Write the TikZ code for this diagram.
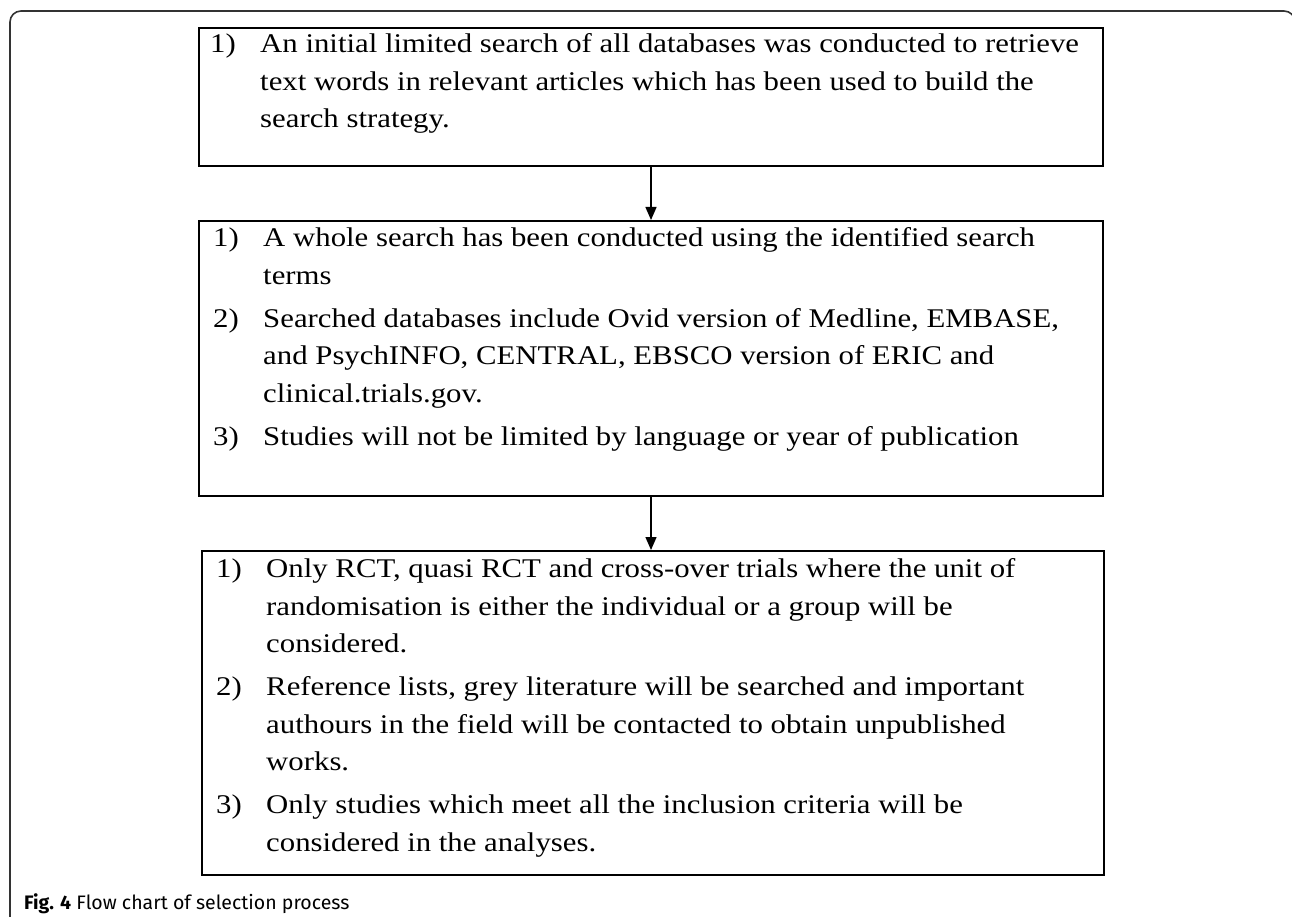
\documentclass[tikz,border=0pt]{standalone}
\usepackage{fontspec}
\usepackage{graphicx}
\setmainfont{Liberation Serif}
\newfontfamily\capfont{Fira Sans}
\usetikzlibrary{arrows.meta}

\tikzset{
  stepbox/.style={draw=black, line width=2pt, rectangle, inner sep=0pt},
  flowtext/.style={anchor=north west, inner sep=0pt, align=left,
    font=\fontsize{27}{37.5}\selectfont},
  flowarrow/.style={draw=black, line width=1.4pt,
    -{Triangle[length=13pt,width=11pt]}},
  frame/.style={draw=black!80, line width=1.6pt, rounded corners=11pt},
}
% item number column and the slightly widened list text
\newcommand{\nr}[1]{\makebox[43.9pt][l]{#1}}
\newcommand{\widelist}[1]{\scalebox{1.14}[1]{#1}}

\begin{document}
\begin{tikzpicture}[x=1pt,y=-1pt]
  \useasboundingbox (0,0) rectangle (1292,917);
  \begin{scope}
    \clip (0,0) rectangle (1292,917);
    \draw[frame] (10,11) rectangle (1295,950);
  \end{scope}

  % the three stages of the search
  \node[stepbox, minimum width=904pt, minimum height=138pt] (b1) at (651,97) {};
  \node[stepbox, minimum width=904pt, minimum height=275pt] (b2) at (651,358.5) {};
  \node[stepbox, minimum width=902pt, minimum height=324pt] (b3) at (653,713) {};

  \node[flowtext] (t1) at (210,26.5) {\widelist{%
    \begin{tabular}{@{}l@{}l@{}}
    \nr{1)} & An initial limited search of all databases was conducted to retrieve\\
            & text words in relevant articles which has been used to build the\\
            & search strategy.
    \end{tabular}}};

  \node[flowtext] (t2) at (213,220.5) {\widelist{%
    \begin{tabular}{@{}l@{}l@{}}
    \nr{1)} & A whole search has been conducted using the identified search\\
            & terms\\[5.5pt]
    \nr{2)} & Searched databases include Ovid version of Medline, EMBASE,\\
            & and PsychINFO, CENTRAL, EBSCO version of ERIC and\\
            & clinical.trials.gov.\\[5.5pt]
    \nr{3)} & Studies will not be limited by language or year of publication
    \end{tabular}}};

  \node[flowtext] (t3) at (216,551.5) {\widelist{%
    \begin{tabular}{@{}l@{}l@{}}
    \nr{1)} & Only RCT, quasi RCT and cross-over trials where the unit of\\
            & randomisation is either the individual or a group will be\\
            & considered.\\[5.5pt]
    \nr{2)} & Reference lists, grey literature will be searched and important\\
            & authours in the field will be contacted to obtain unpublished\\
            & works.\\[5.5pt]
    \nr{3)} & Only studies which meet all the inclusion criteria will be\\
            & considered in the analyses.
    \end{tabular}}};

  % connectors between the stages
  \draw[flowarrow] (b1.south) -- (b2.north);
  \draw[flowarrow] (b2.south) -- (b2.south |- b3.north);

  % caption
  \node[anchor=base west, inner sep=0pt, font=\capfont\fontsize{19.5}{22}\selectfont]
    (cap) at (24,909) {\textbf{Fig. 4} Flow chart of selection process};
\end{tikzpicture}
\end{document}
